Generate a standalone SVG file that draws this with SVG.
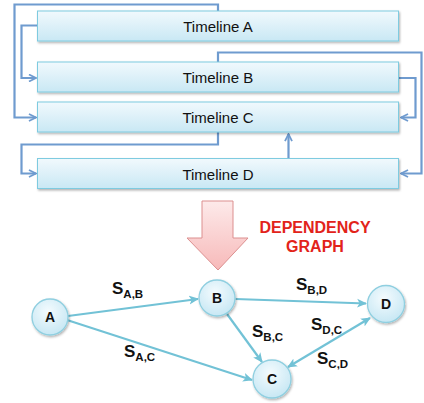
<svg xmlns="http://www.w3.org/2000/svg" width="424" height="403" viewBox="0 0 424 403">
<defs>
<linearGradient id="boxg" x1="0" y1="0" x2="0" y2="1">
<stop offset="0" stop-color="#f1f9fd"/>
<stop offset="1" stop-color="#c9e8f4"/>
</linearGradient>
<radialGradient id="nodeg" cx="0.45" cy="0.35" r="0.7">
<stop offset="0" stop-color="#f4fbfe"/>
<stop offset="1" stop-color="#c4e6f3"/>
</radialGradient>
<linearGradient id="arrg" x1="0" y1="0" x2="0" y2="1">
<stop offset="0" stop-color="#fdeaea"/>
<stop offset="1" stop-color="#f7b9b9"/>
</linearGradient>
<marker id="ah" viewBox="0 0 10 10" refX="9" refY="5" markerWidth="4" markerHeight="4" orient="auto-start-reverse" markerUnits="strokeWidth">
<path d="M1,1 L9,5 L1,9" fill="none" stroke="#6f9bcf" stroke-width="2"/>
</marker>
<marker id="gh" viewBox="0 0 10 10" refX="9" refY="5" markerWidth="4.5" markerHeight="4.5" orient="auto-start-reverse" markerUnits="strokeWidth">
<path d="M0,0.5 L10,5 L0,9.5 L2.5,5 Z" fill="#72c2d6"/>
</marker>
<filter id="sh" x="-10%" y="-20%" width="120%" height="150%">
<feDropShadow dx="1" dy="1.5" stdDeviation="1" flood-color="#000" flood-opacity="0.3"/>
</filter>
</defs>
<style>
.box{fill:url(#boxg);stroke:#7ecbe0;stroke-width:1;filter:url(#sh)}
.tl{font-family:"Liberation Sans",Arial,sans-serif;font-size:15px;fill:#111;text-anchor:middle}
.con{fill:none;stroke:#6f9bcf;stroke-width:2.2;marker-end:url(#ah)}
.node{fill:url(#nodeg);stroke:#8fcfe0;stroke-width:1.3;filter:url(#sh)}
.nl{font-family:"Liberation Sans",Arial,sans-serif;font-size:14px;font-weight:bold;fill:#111;text-anchor:middle}
.edge{fill:none;stroke:#72c2d6;stroke-width:2.2;marker-end:url(#gh)}
.lab{font-family:"Liberation Sans",Arial,sans-serif;font-weight:bold;fill:#111;font-size:17px}
.sub{font-size:11.5px}
.red{font-family:"Liberation Sans",Arial,sans-serif;font-weight:bold;fill:#e2231a;font-size:16px;text-anchor:middle}
</style>

<g id="timeline-connectors">
<path class="con" d="M218,11 V4.5 H14.5 V117.5 H36"/>
<path class="con" d="M37.5,25.5 H21.5 V78 H36"/>
<path class="con" d="M218,62 V52.5 H421.5 V173.5 H401"/>
<path class="con" d="M399,78 H415.5 V117.5 H401"/>
<path class="con" d="M288.5,158 V134"/>
<path class="con" d="M218,132 V144.5 H21.5 V173.5 H36"/>
</g>

<g id="timeline-a"><rect class="box" x="37.5" y="11" width="361" height="30"/><text class="tl" x="218" y="31.5">Timeline A</text></g>
<g id="timeline-b"><rect class="box" x="37.5" y="62" width="361" height="30"/><text class="tl" x="218" y="82.5">Timeline B</text></g>
<g id="timeline-c"><rect class="box" x="37.5" y="102" width="361" height="30"/><text class="tl" x="218" y="122.5">Timeline C</text></g>
<g id="timeline-d"><rect class="box" x="37.5" y="158.5" width="361" height="30"/><text class="tl" x="218" y="179.5">Timeline D</text></g>

<g id="big-arrow">
<path d="M202,201 H233 V238 H248 L218,270 L187,238 H202 Z" fill="url(#arrg)" stroke="#dc8f8f" stroke-width="1"/>
</g>
<g id="title">
<text class="red" x="315" y="233">DEPENDENCY</text>
<text class="red" x="315" y="252">GRAPH</text>
</g>

<g id="graph-edges">
<path class="edge" d="M68,316 L198,299"/>
<path class="edge" d="M67,320 L252,380"/>
<path class="edge" d="M235.5,299 L366,303.5"/>
<path class="edge" d="M227,314 L262,362"/>
<path class="edge" d="M288,367 L370,318" marker-start="url(#gh)"/>
</g>

<g id="node-a"><circle class="node" cx="50" cy="317" r="18"/><text class="nl" x="50" y="322">A</text></g>
<g id="node-b"><circle class="node" cx="217" cy="298" r="18"/><text class="nl" x="217" y="303">B</text></g>
<g id="node-c"><circle class="node" cx="272" cy="379" r="19"/><text class="nl" x="272" y="384">C</text></g>
<g id="node-d"><circle class="node" cx="386" cy="304" r="18.5"/><text class="nl" x="386" y="309">D</text></g>

<g id="edge-labels">
<text class="lab" x="112" y="294">S<tspan class="sub" dy="4">A,B</tspan></text>
<text class="lab" x="124" y="357">S<tspan class="sub" dy="4">A,C</tspan></text>
<text class="lab" x="296" y="290">S<tspan class="sub" dy="4">B,D</tspan></text>
<text class="lab" x="252" y="337">S<tspan class="sub" dy="4">B,C</tspan></text>
<text class="lab" x="311" y="330">S<tspan class="sub" dy="4">D,C</tspan></text>
<text class="lab" x="317" y="364">S<tspan class="sub" dy="4">C,D</tspan></text>
</g>
</svg>
